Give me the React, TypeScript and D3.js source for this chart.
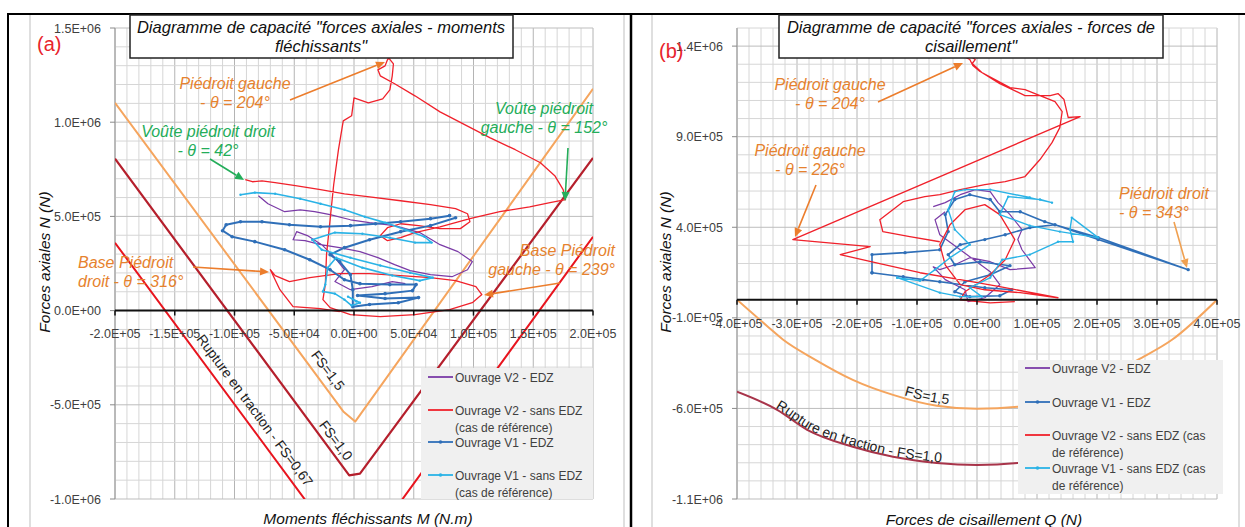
import * as d3 from "d3";
import { useEffect } from "react";

type Pt = [number, number];

// values in kN (and kN.m) -> multiplied by K when drawn
const K = 1000;

// ---- panel (a) : N vs M ----
const aXTicks = [-2e5, -1.5e5, -1e5, -5e4, 0, 5e4, 1e5, 1.5e5, 2e5];
const aYTicks = [-1e6, -5e5, 0, 5e5, 1e6, 1.5e6];

const aV2Edz: Pt[] = [[-80,610],[-72,567],[-58,525],[-45,535],[-33,525],[-20,509],[-3,482],[13,467],[34,451],[55,414],[72,350],[87,313],[99,260],[95,217],[82,180],[64,191],[47,212],[34,244],[20,281],[5,313],[-12,334],[-28,350],[-41,371],[-51,376],[-48,419],[-39,398],[-27,350],[-16,281],[-8,217],[-16,154],[-3,111],[15,127],[32,154],[43,143]];
const aV2SansEdz: Pt[] = [[-91,695],[-85,684],[-77,689],[-66,679],[-49,663],[-28,642],[-8,620],[13,604],[39,583],[64,562],[85,541],[95,514],[97,472],[89,435],[72,435],[54,451],[39,461],[28,440],[22,398],[28,371],[39,387],[51,414],[72,445],[97,488],[122,525],[147,551],[164,573],[177,589],[175,642],[168,716],[156,785],[135,854],[114,917],[93,986],[72,1055],[51,1140],[34,1204],[22,1246],[20,1278],[26,1299],[28,1331],[29,1341],[33,1310],[32,1246],[30,1172],[24,1124],[12,1103],[0,1129],[-2,1034],[-9,1007],[-13,854],[-17,668],[-20,482],[-23,297],[-24,138],[-26,58],[-20,16],[-3,-21],[22,-32],[51,-21],[80,5],[99,42],[107,85],[102,127],[85,159],[64,175],[39,186],[13,196],[-12,196],[-37,175],[-54,154],[-66,186],[-70,217],[-62,111],[-51,21],[-28,11],[-12,-5]];
const aV1Edz: Pt[] = [[80,504],[64,488],[39,472],[18,461],[-3,451],[-28,445],[-54,456],[-77,472],[-95,472],[-107,456],[-110,424],[-102,392],[-83,366],[-58,323],[-37,270],[-20,217],[-8,164],[5,143],[30,138],[52,138],[49,106],[26,90],[3,80],[26,64],[54,69],[37,42],[13,32],[-1,21],[-1,111],[-3,191],[-12,260],[-20,297],[-8,334],[13,376],[39,419],[64,451],[85,493]];
const aV1SansEdz: Pt[] = [[-95,615],[-83,626],[-66,620],[-45,594],[-28,567],[-8,535],[9,498],[26,467],[43,429],[59,392],[65,361],[51,361],[30,387],[7,408],[-16,414],[-35,376],[-27,323],[-3,281],[22,239],[47,201],[66,175],[55,159],[32,186],[7,228],[-15,281],[-22,228],[-24,138],[-26,101],[-16,90],[-8,58],[-2,27],[5,42],[-5,74],[2,48]];
const aFs15: Pt[] = [[-200,1103],[-9,-535],[1,-589],[200,1177]];
const aFs10: Pt[] = [[-200,806],[-4,-875],[5,-865],[200,810]];
const aFs067: Pt[] = [[-200,360],[0,-1355],[200,392]];

// ---- panel (b) : N vs Q ----
const bXTicks = [-4e5, -3e5, -2e5, -1e5, 0, 1e5, 2e5, 3e5, 4e5];
const bYTicks = [-1.1e6, -6e5, -1e5, 4e5, 9e5, 1.4e6];

const bV2Edz: Pt[] = [[-73,514],[-53,536],[-28,580],[-3,608],[22,597],[35,536],[55,470],[75,387],[68,332],[75,276],[97,177],[55,166],[22,210],[-12,232],[-37,193],[-62,166],[-73,182],[-53,111],[-20,55],[-15,-11],[13,11],[38,83],[22,155],[-28,276],[-62,359],[-70,442],[-53,486]];
const bV1Edz: Pt[] = [[-175,149],[-175,249],[-120,260],[-62,276],[-48,376],[-53,470],[-37,553],[-12,580],[22,553],[38,486],[72,486],[113,431],[202,343],[352,166],[202,332],[130,414],[88,398],[47,359],[13,332],[-28,304],[-48,249],[-37,193],[5,210],[55,188],[22,138],[-20,99],[-37,44],[-12,17],[38,22],[58,55],[13,66],[-62,99],[-90,111],[-123,127],[-175,149]];
const bV2SansEdz: Pt[] = [[-62,320],[-112,348],[-157,376],[-162,442],[-123,541],[-87,569],[-62,580],[-28,608],[13,635],[47,652],[80,680],[105,774],[125,867],[138,950],[142,1039],[130,1094],[105,1127],[80,1160],[55,1171],[30,1216],[5,1260],[-7,1293],[-12,1326],[-22,1343],[-15,1354],[-3,1326],[-8,1304],[8,1254],[38,1193],[80,1127],[122,1127],[135,1138],[145,1105],[152,1006],[172,1011],[-307,332],[-178,293],[-228,249],[-162,199],[-95,149],[-28,111],[38,72],[135,11],[72,39],[13,55],[-28,83],[-53,193],[-62,304],[-45,414],[-20,497],[13,525],[38,470],[63,332],[47,221],[22,138],[-20,44],[-28,0],[22,-17],[63,-11]];
const bV1SansEdz: Pt[] = [[-133,122],[-62,39],[-28,17],[8,17],[-12,66],[22,122],[42,221],[88,249],[135,320],[160,320],[155,387],[158,453],[202,343],[138,376],[88,409],[38,470],[52,569],[105,553],[125,536],[88,564],[22,608],[-20,608],[-37,597],[-48,497],[-37,387],[-12,304],[-45,232],[-70,166],[-95,105],[-133,122]];
const bFs15: Pt[] = [[-400,0],[-350,-145],[-323,-221],[-270,-330],[-207,-442],[-140,-525],[-67,-585],[0,-602],[68,-591],[140,-525],[207,-442],[268,-332],[325,-221],[400,0]];
const bFs10: Pt[] = [[-400,-508],[-333,-608],[-283,-718],[-207,-812],[-140,-867],[-67,-901],[0,-912],[68,-901],[140,-867],[207,-812],[283,-718],[333,-608],[400,-508]];

const FONT = "'Liberation Sans', Arial, sans-serif";
const C = {
  purple: "#7a3aa6",
  red: "#f0212b",
  blue: "#2f6fb8",
  cyan: "#2ab3e6",
  orange: "#f5a55e",
  dark: "#b51f2c",
  rupt: "#e8141e",
  ruptB: "#a8344a",
  annO: "#e6822e",
  annG: "#24ad5a",
};

const fmtE = (v: number) => {
  if (v === 0) return "0.0E+00";
  const e = Math.floor(Math.log10(Math.abs(v)) + 1e-9);
  const m = v / Math.pow(10, e);
  return `${m.toFixed(1)}E${e < 0 ? "-" : "+"}${String(Math.abs(e)).padStart(2, "0")}`;
};

type Series = { data: Pt[]; color: string; width: number; dot?: number; smooth?: boolean };
type Cfg = {
  id: string;
  left: number; right: number; top: number; bottom: number;
  xDom: [number, number]; yDom: [number, number];
  xStep: number; yStep: number;
  xTicks: number[]; yTicks: number[];
  yLabelX: number; xLabelY: number;
  series: Series[];
};

const scalesOf = (cfg: Cfg) => ({
  x: d3.scaleLinear().domain(cfg.xDom).range([cfg.left, cfg.right]),
  y: d3.scaleLinear().domain(cfg.yDom).range([cfg.bottom, cfg.top]),
});

function Plot({ cfg }: { cfg: Cfg }) {
  const { x, y } = scalesOf(cfg);
  const nx = Math.round((cfg.xDom[1] - cfg.xDom[0]) / cfg.xStep);
  const ny = Math.round((cfg.yDom[1] - cfg.yDom[0]) / cfg.yStep);
  const vx = d3.range(nx + 1).map((i) => cfg.xDom[0] + i * cfg.xStep);
  const vy = d3.range(ny + 1).map((i) => cfg.yDom[0] + i * cfg.yStep);
  const isMajor = (v: number, ticks: number[], s: number) => ticks.some((t) => Math.abs(t - v) < s / 10);
  const clip = `clip-${cfg.id}`;
  const lineGen = (smooth?: boolean) =>
    d3
      .line<Pt>()
      .x((d) => x(d[0] * K))
      .y((d) => y(d[1] * K))
      .curve(smooth ? d3.curveMonotoneX : d3.curveLinear);

  return (
    <g>
      <defs>
        <clipPath id={clip}>
          <rect x={cfg.left} y={cfg.top} width={cfg.right - cfg.left} height={cfg.bottom - cfg.top} />
        </clipPath>
      </defs>
      {vx.map((v, i) => (
        <line key={"gx" + i} x1={x(v)} x2={x(v)} y1={cfg.top} y2={cfg.bottom}
          stroke={isMajor(v, cfg.xTicks, cfg.xStep) ? "#b4b4b4" : "#d6d6d6"} strokeWidth={1} />
      ))}
      {vy.map((v, i) => (
        <line key={"gy" + i} x1={cfg.left} x2={cfg.right} y1={y(v)} y2={y(v)}
          stroke={isMajor(v, cfg.yTicks, cfg.yStep) ? "#bdbdbd" : "#d6d6d6"} strokeWidth={1} />
      ))}
      <line x1={cfg.left} x2={cfg.left} y1={cfg.top} y2={cfg.bottom} stroke="#9a9a9a" />
      {cfg.yTicks.map((t) => (
        <g key={"yt" + t}>
          <line x1={cfg.left - 5} x2={cfg.left} y1={y(t)} y2={y(t)} stroke="#8a8a8a" />
          <text x={cfg.yLabelX} y={y(t) + 4.5} textAnchor="end" fontSize={12.5} fill="#404040">{fmtE(t)}</text>
        </g>
      ))}
      <g clipPath={`url(#${clip})`}>
        {cfg.series.map((s, i) => (
          <g key={"s" + i}>
            <path d={lineGen(s.smooth)(s.data) || ""} fill="none" stroke={s.color} strokeWidth={s.width} strokeLinejoin="round" />
            {s.dot
              ? s.data.map((d, j) => <circle key={j} cx={x(d[0] * K)} cy={y(d[1] * K)} r={s.dot} fill={s.color} />)
              : null}
          </g>
        ))}
      </g>
      <line x1={cfg.left} x2={cfg.right} y1={y(0)} y2={y(0)} stroke="#111" strokeWidth={2} />
      {cfg.xTicks.map((t) => (
        <g key={"xt" + t}>
          <line x1={x(t)} x2={x(t)} y1={y(0)} y2={y(0) + 5} stroke="#111" strokeWidth={1.5} />
          <text x={x(t)} y={cfg.xLabelY} textAnchor="middle" fontSize={12.5} fill="#404040">{fmtE(t)}</text>
        </g>
      ))}
    </g>
  );
}

const A: Cfg = {
  id: "a", left: 115, right: 593, top: 28, bottom: 499,
  xDom: [-2e5, 2e5], yDom: [-1e6, 1.5e6], xStep: 1e4, yStep: 1e5,
  xTicks: aXTicks, yTicks: aYTicks, yLabelX: 101, xLabelY: 338,
  series: [
    { data: aFs15, color: C.orange, width: 2 },
    { data: aFs10, color: C.dark, width: 2.2 },
    { data: aFs067, color: C.rupt, width: 2 },
    { data: aV2Edz, color: C.purple, width: 1.2 },
    { data: aV2SansEdz, color: C.red, width: 1.3 },
    { data: aV1Edz, color: C.blue, width: 2, dot: 1.8 },
    { data: aV1SansEdz, color: C.cyan, width: 1.6, dot: 1.2 },
  ],
};

const B: Cfg = {
  id: "b", left: 737, right: 1217, top: 28, bottom: 499,
  xDom: [-4e5, 4e5], yDom: [-1.1e6, 1.5e6], xStep: 2e4, yStep: 1e5,
  xTicks: bXTicks, yTicks: bYTicks, yLabelX: 723, xLabelY: 328,
  series: [
    { data: bFs15, color: C.orange, width: 2, smooth: true },
    { data: bFs10, color: C.ruptB, width: 2, smooth: true },
    { data: bV2Edz, color: C.purple, width: 1.2 },
    { data: bV1Edz, color: C.blue, width: 1.6, dot: 1.7 },
    { data: bV2SansEdz, color: C.red, width: 1.3 },
    { data: bV1SansEdz, color: C.cyan, width: 1.4, dot: 1.2 },
  ],
};

function Legend({ x, y, w, h, items }: { x: number; y: number; w: number; h: number; items: { color: string; dot?: boolean; lines: string[]; cy: number }[] }) {
  return (
    <g>
      <rect x={x} y={y} width={w} height={h} fill="#f0f0f0" />
      {items.map((it, i) => (
        <g key={i}>
          <line x1={x + 7} x2={x + 32} y1={it.cy} y2={it.cy} stroke={it.color} strokeWidth={1.8} />
          {it.dot ? <circle cx={x + 19.5} cy={it.cy} r={1.8} fill={it.color} /> : null}
          {it.lines.map((t, j) => (
            <text key={j} x={x + 34} y={it.cy + 4.5 + j * 17} fontSize={12} fill="#404040">{t}</text>
          ))}
        </g>
      ))}
    </g>
  );
}

function Arrow({ x1, y1, x2, y2, color }: { x1: number; y1: number; x2: number; y2: number; color: string }) {
  const a = Math.atan2(y2 - y1, x2 - x1);
  const L = 9, W = 4;
  const bx = x2 - L * Math.cos(a), by = y2 - L * Math.sin(a);
  const p = `M${x2},${y2}L${bx + W * Math.sin(a)},${by - W * Math.cos(a)}L${bx - W * Math.sin(a)},${by + W * Math.cos(a)}Z`;
  return (
    <g>
      <line x1={x1} y1={y1} x2={bx} y2={by} stroke={color} strokeWidth={1.6} />
      <path d={p} fill={color} />
    </g>
  );
}

const Ann = ({ x, y, lines, color, anchor = "middle" }: { x: number; y: number; lines: string[]; color: string; anchor?: string }) => (
  <g>
    {lines.map((t, i) => (
      <text key={i} x={x} y={y + i * 19} textAnchor={anchor as any} fontSize={16} fontStyle="italic" fill={color}>{t}</text>
    ))}
  </g>
);

export default function App() {
  useEffect(() => {
    document.body.style.margin = "0";
  }, []);

  // label guides following the curves of panel (b), lifted a few pixels
  const sb = scalesOf(B);
  const guide = (data: Pt[], lift: number) =>
    d3
      .line<Pt>()
      .x((d) => sb.x(d[0] * K))
      .y((d) => sb.y(d[1] * K) - lift)
      .curve(d3.curveMonotoneX)(data) || "";

  return (
    <svg width={1245} height={527} style={{ display: "block", fontFamily: FONT, background: "#fff" }}>
      <defs>
        <path id="guide15" d={guide(bFs15, 3)} />
        <path id="guide10" d={guide(bFs10, 1)} />
      </defs>
      {/* frames */}
      <line x1={30} x2={30} y1={14} y2={527} stroke="#bfbfbf" />
      <line x1={624} x2={624} y1={14} y2={527} stroke="#bfbfbf" />
      <line x1={652} x2={652} y1={14} y2={527} stroke="#bfbfbf" />
      <line x1={1239} x2={1239} y1={14} y2={527} stroke="#bfbfbf" />
      <line x1={8} x2={1245} y1={14} y2={14} stroke="#000" strokeWidth={2} />
      <line x1={8} x2={8} y1={13} y2={527} stroke="#000" strokeWidth={2} />
      <line x1={631} x2={631} y1={13} y2={527} stroke="#000" strokeWidth={2.5} />

      <Plot cfg={A} />
      <Plot cfg={B} />

      {/* panel a texts */}
      <text x={37} y={51} fontSize={20} fill="#e8242c">(a)</text>
      <rect x={130} y={15} width={383} height={43} fill="#fff" stroke="#222" strokeWidth={1.5} />
      <text x={321} y={33} textAnchor="middle" fontSize={16.5} fontStyle="italic" fill="#111">Diagramme de capacité "forces axiales - moments</text>
      <text x={321} y={52} textAnchor="middle" fontSize={16.5} fontStyle="italic" fill="#111">fléchissants"</text>

      <Ann x={235} y={89} lines={["Piédroit gauche", "- θ = 204°"]} color={C.annO} />
      <Arrow x1={290} y1={100} x2={385} y2={62} color="#ec7d2c" />
      <Ann x={208} y={137} lines={["Voûte piédroit droit", "- θ = 42°"]} color={C.annG} />
      <Arrow x1={210} y1={159} x2={244} y2={180} color={C.annG} />
      <Ann x={544} y={114} lines={["Voûte piédroit", "gauche - θ = 152°"]} color={C.annG} />
      <Arrow x1={568} y1={148} x2={565} y2={201} color={C.annG} />
      <Ann x={78} y={268} lines={["Base Piédroit", "droit - θ = 316°"]} color={C.annO} anchor="start" />
      <Arrow x1={193} y1={267} x2={269} y2={272} color="#ec7d2c" />
      <Ann x={615} y={256} lines={["Base Piédroit", "gauche - θ = 239°"]} color={C.annO} anchor="end" />
      <Arrow x1={560} y1={283} x2={484} y2={295} color="#ec7d2c" />

      <text transform="translate(327,371) rotate(53.5)" textAnchor="middle" dominantBaseline="middle" fontSize={14} fill="#222">FS=1,5</text>
      <text transform="translate(335,441) rotate(53.5)" textAnchor="middle" dominantBaseline="middle" fontSize={14} fill="#222">FS=1,0</text>
      <text transform="translate(254,411) rotate(53.5)" textAnchor="middle" dominantBaseline="middle" fontSize={14} fill="#222">Rupture en traction - FS=0,67</text>

      <Legend x={421} y={368} w={172} h={131} items={[
        { color: C.purple, lines: ["Ouvrage V2 - EDZ"], cy: 377 },
        { color: C.red, lines: ["Ouvrage V2 - sans EDZ", "(cas de référence)"], cy: 410 },
        { color: C.blue, dot: true, lines: ["Ouvrage V1 - EDZ"], cy: 442 },
        { color: C.cyan, dot: true, lines: ["Ouvrage V1 - sans EDZ", "(cas de référence)"], cy: 475 },
      ]} />

      <text transform="translate(50,262) rotate(-90)" textAnchor="middle" fontSize={15.5} fontStyle="italic" fill="#111">Forces axiales N (N)</text>
      <text x={368} y={524} textAnchor="middle" fontSize={15.5} fontStyle="italic" fill="#111">Moments fléchissants M (N.m)</text>

      {/* panel b texts */}
      <text x={659} y={58} fontSize={20} fill="#e8242c">(b)</text>
      <rect x={779} y={15} width={384} height={43} fill="#fff" stroke="#222" strokeWidth={1.5} />
      <text x={971} y={33} textAnchor="middle" fontSize={16.5} fontStyle="italic" fill="#111">Diagramme de capacité "forces axiales - forces de</text>
      <text x={971} y={52} textAnchor="middle" fontSize={16.5} fontStyle="italic" fill="#111">cisaillement"</text>

      <Ann x={830} y={90} lines={["Piédroit gauche", "- θ = 204°"]} color={C.annO} />
      <Arrow x1={878} y1={102} x2={963} y2={63} color="#ec7d2c" />
      <Ann x={810} y={156} lines={["Piédroit gauche", "- θ = 226°"]} color={C.annO} />
      <Arrow x1={816} y1={185} x2={795} y2={237} color="#ec7d2c" />
      <Ann x={1119} y={199} lines={["Piédroit droit", "- θ = 343°"]} color={C.annO} anchor="start" />
      <Arrow x1={1174} y1={222} x2={1187} y2={268} color="#f0a050" />

      <text fontSize={14} fill="#222">
        <textPath href="#guide15" startOffset={196}>FS=1,5</textPath>
      </text>
      <text fontSize={14} fill="#222">
        <textPath href="#guide10" startOffset={42}>Rupture en traction - FS=1,0</textPath>
      </text>

      <Legend x={1018} y={360} w={205} h={134} items={[
        { color: C.purple, lines: ["Ouvrage V2 - EDZ"], cy: 368 },
        { color: C.blue, dot: true, lines: ["Ouvrage V1 - EDZ"], cy: 402 },
        { color: C.red, lines: ["Ouvrage V2 - sans EDZ (cas", "de référence)"], cy: 435 },
        { color: C.cyan, dot: true, lines: ["Ouvrage V1 - sans EDZ (cas", "de référence)"], cy: 468 },
      ]} />

      <text transform="translate(671,262) rotate(-90)" textAnchor="middle" fontSize={15.5} fontStyle="italic" fill="#111">Forces axiales N (N)</text>
      <text x={984} y={525} textAnchor="middle" fontSize={15.5} fontStyle="italic" fill="#111">Forces de cisaillement Q (N)</text>
    </svg>
  );
}
